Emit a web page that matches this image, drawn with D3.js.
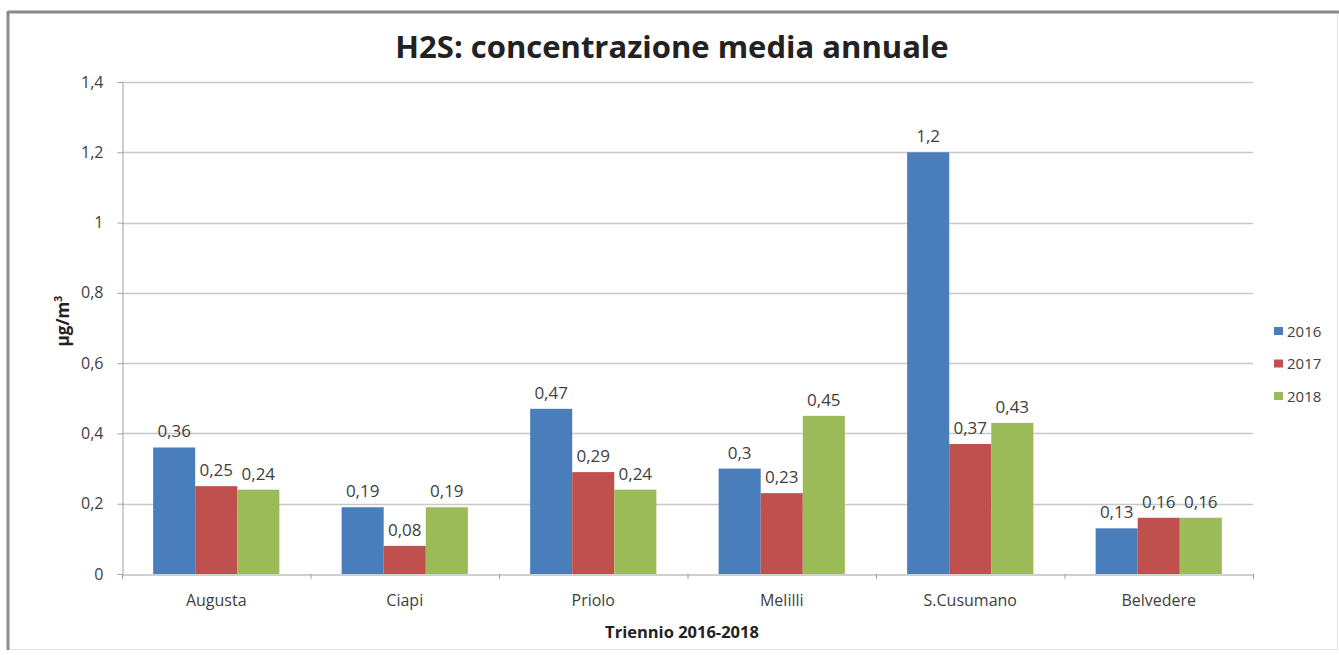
<!DOCTYPE html>
<html><head><meta charset="utf-8">
<script src="https://cdn.jsdelivr.net/npm/d3@7"></script>
<style>body{margin:0;background:#fff}svg{display:block}text{font-family:"Open Sans",sans-serif}</style>
</head><body><svg id="c" width="1339" height="655"></svg>
<script>
const categories = ["Augusta","Ciapi","Priolo","Melilli","S.Cusumano","Belvedere"];
const seriesNames = ["2016","2017","2018"];
const values2016 = [0.36,0.19,0.47,0.3,1.2,0.13];
const values2017 = [0.25,0.08,0.29,0.23,0.37,0.16];
const values2018 = [0.24,0.19,0.24,0.45,0.43,0.16];
const yTicks = [0,0.2,0.4,0.6,0.8,1,1.2,1.4];
const colors = ["#4a7ebb","#c0504d","#9bbb59"];
const seriesValues = [values2016,values2017,values2018];

const FONT = "'Open Sans',sans-serif";
const svg = d3.select("#c");
const fmt = v => String(v).replace(".", ",");
const m = {l:122, r:1253, t:82, b:574};

// frame
svg.append("rect").attr("x",8.5).attr("y",12.5).attr("width",1329).attr("height",637)
  .attr("fill","none").attr("stroke","#e4e4e4").attr("stroke-width",1);
svg.append("line").attr("x1",8).attr("x2",1339).attr("y1",12).attr("y2",12).attr("stroke","#8a8a8a").attr("stroke-width",3);
svg.append("line").attr("x1",8).attr("x2",8).attr("y1",11).attr("y2",650).attr("stroke","#8a8a8a").attr("stroke-width",3);

const x = d3.scaleBand().domain(categories).range([m.l,m.r]).paddingInner(0).paddingOuter(0);
const x1 = d3.scaleBand().domain(seriesNames).range([0,x.bandwidth()]).paddingInner(0).paddingOuter(0.74);
const y = d3.scaleLinear().domain([0,1.4]).range([m.b,m.t]);

// gridlines
svg.append("g").selectAll("line").data(yTicks.filter(d=>d>0)).join("line")
  .attr("x1",m.l).attr("x2",m.r).attr("y1",d=>Math.round(y(d))+0.5).attr("y2",d=>Math.round(y(d))+0.5)
  .attr("stroke","#c8c8c8").attr("stroke-width",1.3);

// y axis
const ya = svg.append("g").attr("transform",`translate(${m.l+0.5},0)`)
  .call(d3.axisLeft(y).tickValues(yTicks).tickFormat(fmt).tickSize(5).tickSizeOuter(0));
ya.select(".domain").attr("stroke","#a0a0a0");
ya.selectAll(".tick line").attr("stroke","#a0a0a0");
ya.selectAll(".tick text").attr("font-size",16).attr("fill","#404040").attr("x",-19).attr("font-family",FONT);

// bars
const groups = svg.append("g").selectAll("g").data(categories).join("g")
  .attr("transform",d=>`translate(${x(d)},0)`);
groups.selectAll("rect").data((d,i)=>seriesNames.map((s,j)=>({s,j,v:seriesValues[j][i]}))).join("rect")
  .attr("x",d=>x1(d.s)).attr("width",x1.bandwidth())
  .attr("y",d=>y(d.v)).attr("height",d=>y(0)-y(d.v)).attr("fill",d=>colors[d.j]);
groups.selectAll("text").data((d,i)=>seriesNames.map((s,j)=>({s,j,v:seriesValues[j][i]}))).join("text")
  .attr("x",d=>x1(d.s)+x1.bandwidth()/2).attr("y",d=>y(d.v)-10)
  .attr("text-anchor","middle").attr("font-size",17).attr("fill","#404040").text(d=>fmt(d.v));

// x axis
const xa = svg.append("g").attr("transform",`translate(0,${m.b+0.5})`)
  .call(d3.axisBottom(x).tickSize(0).tickSizeOuter(0));
xa.select(".domain").attr("stroke","#a0a0a0");
xa.selectAll(".tick text").attr("font-size",16).attr("fill","#404040").attr("y",0).attr("dy","31px").attr("font-family",FONT);
svg.append("g").selectAll("line").data(d3.range(categories.length+1)).join("line")
  .attr("x1",i=>m.l+i*x.bandwidth()+0.5).attr("x2",i=>m.l+i*x.bandwidth()+0.5)
  .attr("y1",m.b).attr("y2",m.b+5).attr("stroke","#a0a0a0");

// titles
svg.append("text").attr("x",672).attr("y",58).attr("text-anchor","middle")
  .attr("font-size",31).attr("font-weight","bold").attr("fill","#222").text("H2S: concentrazione media annuale");
svg.append("text").attr("x",682).attr("y",638).attr("text-anchor","middle")
  .attr("font-size",16.5).attr("font-weight","bold").attr("fill","#222").text("Triennio 2016-2018");
svg.append("text").attr("transform","translate(69,321) rotate(-90)").attr("text-anchor","middle")
  .attr("font-size",17).attr("font-weight","bold").attr("fill","#222")
  .html('µg/m<tspan dy="-7" font-size="11">3</tspan>');

// legend
const lg = svg.append("g").selectAll("g").data(seriesNames).join("g")
  .attr("transform",(d,i)=>`translate(1274,${331+i*32.5})`);
lg.append("rect").attr("x",0).attr("y",-4).attr("width",9).attr("height",8).attr("fill",(d,i)=>colors[i]);
lg.append("text").attr("x",13).attr("y",5.5).attr("font-size",15).attr("fill","#404040").text(d=>d);
</script></body></html>
